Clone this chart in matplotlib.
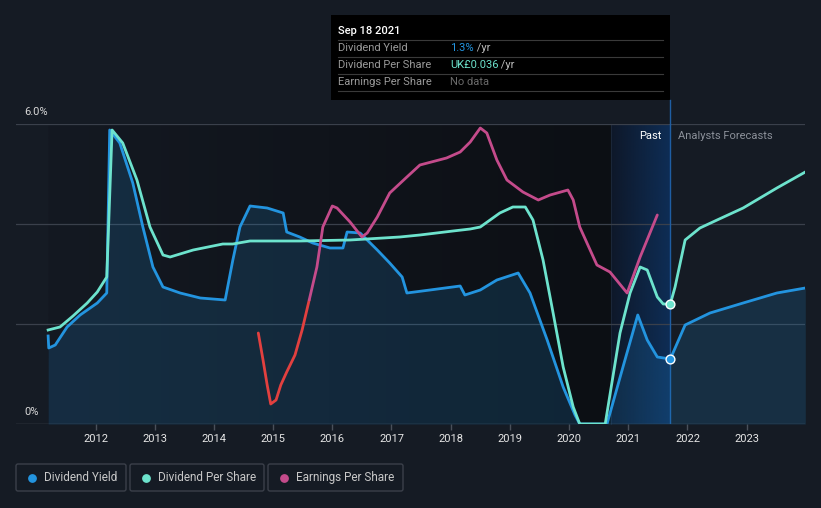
import numpy as np
import matplotlib
matplotlib.use('Agg')
import matplotlib.pyplot as plt
from matplotlib.colors import LinearSegmentedColormap
from matplotlib.patches import Rectangle, FancyBboxPatch

plt.rcParams['font.family'] = ['Roboto', 'DejaVu Sans']

#%% data
# Dividend yield (%)
dy_year = [2011.20, 2011.21, 2011.32, 2011.52, 2011.74, 2012.03, 2012.19, 2012.24, 2012.41,
           2012.63, 2012.80, 2012.97, 2013.14, 2013.43, 2013.77, 2014.19, 2014.32, 2014.44,
           2014.61, 2014.90, 2015.17, 2015.23, 2015.45, 2015.67, 2015.96, 2016.18, 2016.25,
           2016.47, 2016.76, 2016.97, 2017.18, 2017.26, 2017.65, 2018.16, 2018.24, 2018.50,
           2018.78, 2019.14, 2019.34, 2019.63, 2019.90, 2020.10, 2020.18, 2020.64, 2020.91,
           2021.16, 2021.32, 2021.49, 2021.71, 2021.96, 2022.38, 2022.94, 2023.51, 2023.99]
dy_val = [1.76, 1.52, 1.58, 1.94, 2.18, 2.42, 2.62, 5.88, 5.62,
          4.82, 3.94, 3.14, 2.74, 2.62, 2.52, 2.48, 3.28, 3.94,
          4.36, 4.32, 4.22, 3.84, 3.74, 3.62, 3.52, 3.52, 3.84,
          3.82, 3.48, 3.22, 2.94, 2.62, 2.68, 2.76, 2.58, 2.68,
          2.88, 3.02, 2.62, 1.68, 0.74, 0.18, 0.0, 0.0, 1.14,
          2.18, 1.68, 1.34, 1.30, 1.98, 2.22, 2.42, 2.62, 2.72]

# Dividend per share (UK£)
dps_year = [2011.20, 2011.40, 2011.62, 2011.86, 2012.03, 2012.19, 2012.28, 2012.46, 2012.70,
            2012.92, 2013.14, 2013.26, 2013.65, 2014.15, 2014.32, 2014.61, 2015.45, 2016.30,
            2017.14, 2017.48, 2018.04, 2018.33, 2018.50, 2018.83, 2019.05, 2019.26, 2019.39,
            2019.56, 2019.73, 2019.90, 2020.07, 2020.18, 2020.61, 2020.86, 2021.03, 2021.20,
            2021.32, 2021.49, 2021.59, 2021.71, 2021.79, 2021.96, 2022.21, 2022.50, 2022.94,
            2023.51, 2023.99]
dps_val = [0.0282, 0.0291, 0.0324, 0.0363, 0.0396, 0.0441, 0.0882, 0.0843, 0.0732,
           0.0591, 0.0507, 0.0501, 0.0522, 0.0540, 0.0540, 0.0549, 0.0549, 0.0552,
           0.0561, 0.0567, 0.0579, 0.0585, 0.0591, 0.0633, 0.0651, 0.0651, 0.0612,
           0.0492, 0.0333, 0.0171, 0.0051, 0.0, 0.0, 0.0273, 0.0393, 0.0471,
           0.0462, 0.0381, 0.0360, 0.0360, 0.0411, 0.0552, 0.0588, 0.0612, 0.0648,
           0.0708, 0.0756]

# Earnings per share (relative scale), first part drawn red
eps_neg_year = [2014.75, 2014.83, 2014.90, 2014.96, 2015.05, 2015.13, 2015.23, 2015.37, 2015.49, 2015.61]
eps_neg_val = [1.82, 1.28, 0.78, 0.40, 0.48, 0.78, 1.04, 1.38, 1.88, 2.48]
eps_year = [2015.61, 2015.74, 2015.84, 2016.00, 2016.08, 2016.30, 2016.50, 2016.59, 2016.76,
            2016.97, 2017.26, 2017.48, 2017.93, 2018.16, 2018.33, 2018.50, 2018.61, 2018.78,
            2018.95, 2019.22, 2019.48, 2019.68, 2019.98, 2020.07, 2020.18, 2020.47, 2020.69,
            2020.98, 2021.20, 2021.49]
eps_val = [2.48, 3.14, 3.94, 4.36, 4.32, 4.04, 3.74, 3.82, 4.14,
           4.62, 4.94, 5.18, 5.32, 5.44, 5.64, 5.92, 5.82, 5.28,
           4.88, 4.64, 4.48, 4.58, 4.68, 4.48, 3.94, 3.18, 3.04,
           2.62, 3.34, 4.18]

years = list(range(2012, 2024))
now = 2021.71
now_yield = 1.3
now_dps = 0.036

C_DY = '#2394df'
C_DPS = '#6de3cd'
C_EPS = '#c44b8b'
C_RED = '#e2403f'
BG = '#151b24'

#%%
W, H = 821, 508
fig = plt.figure(figsize=(W / 100, H / 100), dpi=100, facecolor=BG)

# background layer in pixel coords
bg = fig.add_axes([0, 0, 1, 1], zorder=0)
bg.set_xlim(0, W); bg.set_ylim(H, 0); bg.axis('off')
cm_past = LinearSegmentedColormap.from_list('past', ['#141922', '#0c0f14'])
bg.imshow(np.linspace(0, 1, 256)[None, :], cmap=cm_past, aspect='auto',
          extent=(48, 611, 424, 124), zorder=1)
cm_hl = LinearSegmentedColormap.from_list('hl', ['#0e1829', '#0e2d55'])
bg.imshow(np.linspace(0, 1, 256)[None, :], cmap=cm_hl, aspect='auto',
          extent=(611, 670, 424, 124), zorder=1)
bg.plot([611, 611], [124, 424], color='#1a2638', lw=0.8, zorder=2)

# data axes
ax = fig.add_axes([16 / W, 84 / H, 789 / W, 300 / H], zorder=1)
ax.patch.set_visible(False)
ax.set_xlim(2010.657, 2023.985)
ax.set_ylim(0, 6)
for s in ax.spines.values():
    s.set_visible(False)
for yv in [2, 4, 6]:
    ax.axhline(yv, color='#3a404b', lw=0.9, zorder=1)
ax.axhline(0, color='#4a505a', lw=1.0, zorder=1)
ax.axvline(now, color='#1f5ea3', lw=1.0, zorder=2)

ax.fill_between(dy_year, dy_val, 0, color=C_DY, alpha=0.17, lw=0, zorder=2)
ax.plot(dy_year, dy_val, color=C_DY, lw=2, solid_joinstyle='round', zorder=3)
ax.scatter([now], [now_yield], s=40, color=C_DY, edgecolor='white', linewidth=1, zorder=6)

ax.set_xticks(years)
ax.set_xticklabels([str(y) for y in years])
ax.set_yticks([])
ax.tick_params(axis='x', colors='#4a505a', length=4, width=1, labelcolor='#e6e6e6',
               labelsize=8, pad=3)

ax2 = ax.twinx()
ax2.set_ylim(0, 0.09)
ax2.axis('off')
ax2.plot(dps_year, dps_val, color=C_DPS, lw=2, solid_joinstyle='round', zorder=3)
ax2.scatter([now], [now_dps], s=40, color=C_DPS, edgecolor='white', linewidth=1, zorder=6)

ax3 = ax.twinx()
ax3.set_ylim(0, 6)
ax3.axis('off')
ax3.plot(eps_neg_year, eps_neg_val, color=C_RED, lw=2, solid_capstyle='round', zorder=3)
ax3.plot(eps_year, eps_val, color=C_EPS, lw=2, solid_capstyle='round', zorder=3)

# overlay: labels, tooltip, legend
top = fig.add_axes([0, 0, 1, 1], zorder=5)
top.set_xlim(0, W); top.set_ylim(H, 0); top.axis('off')
top.patch.set_visible(False)

top.text(24, 112, '6.0%', color='#d8d8d8', fontsize=8, va='center')
top.text(24, 412, '0%', color='#d8d8d8', fontsize=8, va='center')
top.text(662, 136, 'Past', color='#ffffff', fontsize=8, va='center', ha='right')
top.text(678, 136, 'Analysts Forecasts', color='#8b9099', fontsize=8, va='center')

top.plot([now_x := 670, now_x], [100, 124], color='#1f5ea3', lw=1.0)
top.add_patch(Rectangle((331, 15), 339, 85, facecolor='#000000', edgecolor='none'))
top.text(338, 31, 'Sep 18 2021', color='#ffffff', fontsize=8, va='center', fontweight='medium')
for yl in [40, 57, 74, 91]:
    top.plot([338, 663], [yl, yl], color='#3a3a3a', lw=0.8)
rows = [('Dividend Yield', '1.3%', C_DY, ' /yr'),
        ('Dividend Per Share', 'UK£0.036', C_DPS, ' /yr'),
        ('Earnings Per Share', 'No data', '#6a6a6a', '')]
for i, (lab, val, col, suf) in enumerate(rows):
    yy = 48 + 17 * i
    top.text(338, yy, lab, color='#9a9a9a', fontsize=8, va='center')
    t = top.text(450, yy, val, color=col, fontsize=8, va='center')
    if suf:
        top.annotate(suf, xycoords=t, xy=(1, 0.5), va='center', color='#bdbdbd', fontsize=8)

legend = [('Dividend Yield', C_DY, 16, 126), ('Dividend Per Share', C_DPS, 130, 264),
          ('Earnings Per Share', C_EPS, 268, 403)]
for lab, col, x0, x1 in legend:
    top.add_patch(FancyBboxPatch((x0, 464), x1 - x0, 27, boxstyle='round,pad=0,rounding_size=2',
                                 facecolor='none', edgecolor='#3b404a', lw=1))
    top.scatter([x0 + 16], [477.5], s=28, color=col, zorder=6)
    top.text(x0 + 28, 477.5, lab, color='#c8c8c8', fontsize=8.5, va='center')

fig.savefig('out.png', dpi=100, facecolor=BG)
